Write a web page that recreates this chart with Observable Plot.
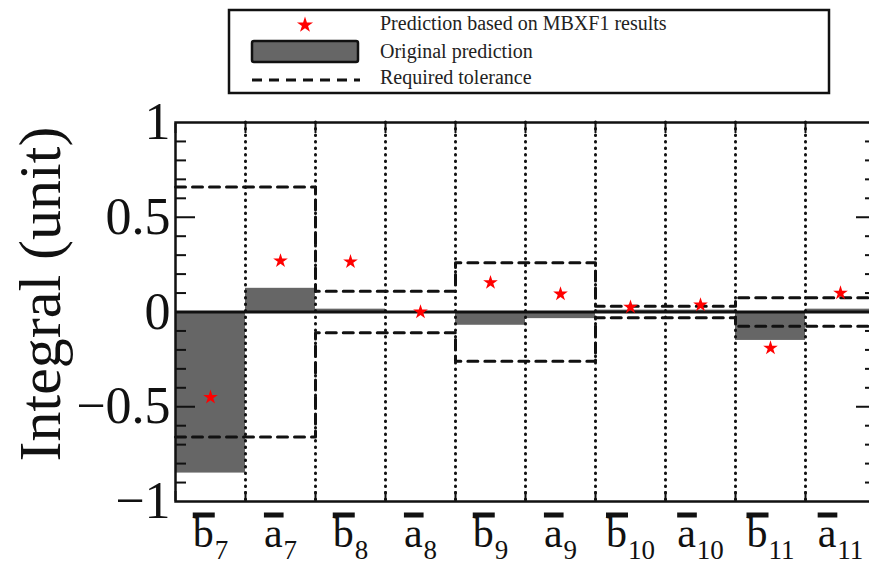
<!DOCTYPE html>
<html><head><meta charset="utf-8">
<script src="https://cdn.jsdelivr.net/npm/d3@7"></script>
<script src="https://cdn.jsdelivr.net/npm/@observablehq/plot@0.6"></script>
<style>
html,body{margin:0;padding:0;background:#fff;overflow:hidden;}
#wrap{width:869px;height:564px;overflow:hidden;position:relative;background:#fff;}
#legend{position:absolute;left:0;top:0;z-index:2;}
#chart{padding-top:90px;}
</style></head><body><div id="wrap"><div id="legend"></div><div id="chart"></div></div>
<script>
// ---- data ----
const letters = ["b","a","b","a","b","a","b","a","b","a"];
const subs = ["7","7","8","8","9","9","10","10","11","11"];
const original = [-0.85, 0.125, 0.015, 0, -0.07, -0.035, 0.01, 0.01, -0.15, 0.015];
const mbxf1 = [-0.45, 0.27, 0.265, 0.0, 0.155, 0.095, 0.026, 0.037, -0.19, 0.1];
const tolerance = [0.66, 0.66, 0.11, 0.11, 0.26, 0.26, 0.03, 0.03, 0.075, 0.075];
const yTickLabels = [-1, -0.5, 0, 0.5, 1];
const yMajorTicks = [-0.5, 0, 0.5];
const legendLabels = ["Prediction based on MBXF1 results", "Original prediction", "Required tolerance"];
const yTitle = "Integral (unit)";

const ns = "http://www.w3.org/2000/svg";
const data = letters.map((l, i) => ({i, label: l + "|" + subs[i], orig: original[i], pred: mbxf1[i], tol: tolerance[i]}));
const steps = [...data.map(d => ({x: d.i, tol: d.tol})), {x: data.length, tol: data[data.length - 1].tol}];
const bounds = d3.range(0, letters.length + 1);
const inner = d3.range(1, letters.length);
const minor = d3.range(-10, 11).map(d => d / 10).filter(v => Math.abs(v * 2 - Math.round(v * 2)) > 1e-9);
const fmt = d => d < 0 ? "\u2212" + Math.abs(d) : String(d);

// ---- legend ----
const lg = d3.select("#legend").append("svg").attr("width", 869).attr("height", 100)
  .style("display", "block").style("font-family", "Liberation Serif");
lg.append("rect").attr("x", 229).attr("y", 10).attr("width", 600).attr("height", 83)
  .attr("fill", "none").attr("stroke", "#111").attr("stroke-width", 2.5);
lg.append("path").attr("d", d3.symbol(d3.symbolStar, 80)()).attr("transform", "translate(305,25)").attr("fill", "red");
lg.append("rect").attr("x", 252).attr("y", 41).attr("width", 106).attr("height", 21).attr("rx", 2)
  .attr("fill", "#666").attr("stroke", "#111").attr("stroke-width", 2.5);
lg.append("line").attr("x1", 252).attr("x2", 360).attr("y1", 80).attr("y2", 80)
  .attr("stroke", "#111").attr("stroke-width", 3).attr("stroke-dasharray", "10,7");
[30, 58, 84].forEach((y, k) => lg.append("text").attr("x", 380).attr("y", y).attr("font-size", 20)
  .attr("fill", "#222").text(legendLabels[k]));

// ---- chart ----
const tickOpts = {strokeWidth: 2, fill: "none", tickFormat: () => "", label: null};
const chart = Plot.plot({
  width: 875, height: 474,
  marginTop: 32, marginBottom: 63, marginLeft: 175, marginRight: 0,
  style: {fontFamily: "Liberation Serif", background: "white", maxWidth: "none", color: "#111"},
  x: {domain: [0, 10], axis: null},
  y: {domain: [-1, 1], axis: null},
  marks: [
    Plot.rect(data, {x1: "i", x2: d => d.i + 1, y1: 0, y2: "orig", fill: "#666666"}),
    Plot.ruleX(inner, {stroke: "#111", strokeWidth: 3, strokeDasharray: "0.5,6", strokeLinecap: "round"}),
    Plot.axisX(bounds, {anchor: "bottom", tickSize: -10, ...tickOpts}),
    Plot.axisX(bounds, {anchor: "top", tickSize: -10, ...tickOpts}),
    Plot.axisY(minor, {anchor: "left", tickSize: -11, ...tickOpts}),
    Plot.axisY(yMajorTicks, {anchor: "left", tickSize: -20, ...tickOpts}),
    Plot.axisY(minor, {anchor: "right", tickSize: -11, ...tickOpts}),
    Plot.axisY(yMajorTicks, {anchor: "right", tickSize: -20, ...tickOpts}),
    Plot.axisY(yTickLabels, {anchor: "left", tickSize: 0, tickPadding: 5, fontSize: 52, tickFormat: fmt, label: null}),
    Plot.ruleY([0], {stroke: "#111", strokeWidth: 3}),
    Plot.line(steps, {x: "x", y: "tol", curve: "step-after", stroke: "#111", strokeWidth: 3, strokeDasharray: "10,7"}),
    Plot.line(steps, {x: "x", y: d => -d.tol, curve: "step-after", stroke: "#111", strokeWidth: 3, strokeDasharray: "10,7"}),
    Plot.dot(data, {x: d => d.i + 0.5, y: "pred", symbol: "star", fill: "red", stroke: "none", r: 4.6}),
    Plot.text(data, {x: d => d.i + 0.5, frameAnchor: "bottom", dy: 45, lineAnchor: "bottom", text: "label", fontSize: 42, fill: "#111"}),
    Plot.text([yTitle], {frameAnchor: "left", textAnchor: "middle", rotate: -90, dx: -135, dy: -18, fontSize: 60, fill: "#111"}),
    Plot.frame({stroke: "#111", strokeWidth: 2.5})
  ]
});
chart.style.display = "block";
document.getElementById("chart").appendChild(chart);

// subscripts and overbars for the category labels
for (const t of Array.from(chart.querySelectorAll("text"))) {
  const s = t.textContent;
  if (!s.includes("|")) continue;
  const [l, sub] = s.split("|");
  t.textContent = "";
  const a = document.createElementNS(ns, "tspan");
  a.textContent = l;
  t.appendChild(a);
  const b = document.createElementNS(ns, "tspan");
  b.textContent = sub;
  b.setAttribute("font-size", 27);
  b.setAttribute("dy", 12);
  b.setAttribute("dx", 1);
  t.appendChild(b);
  const e = t.getExtentOfChar(0);
  const baseY = parseFloat(t.getAttribute("y")) || 0;
  const r = document.createElementNS(ns, "rect");
  r.setAttribute("x", e.x);
  r.setAttribute("width", e.width + 1);
  r.setAttribute("y", baseY - 34);
  r.setAttribute("height", 5);
  r.setAttribute("fill", "#111");
  const tr = t.getAttribute("transform");
  if (tr) r.setAttribute("transform", tr);
  t.parentNode.appendChild(r);
}
</script></body></html>
